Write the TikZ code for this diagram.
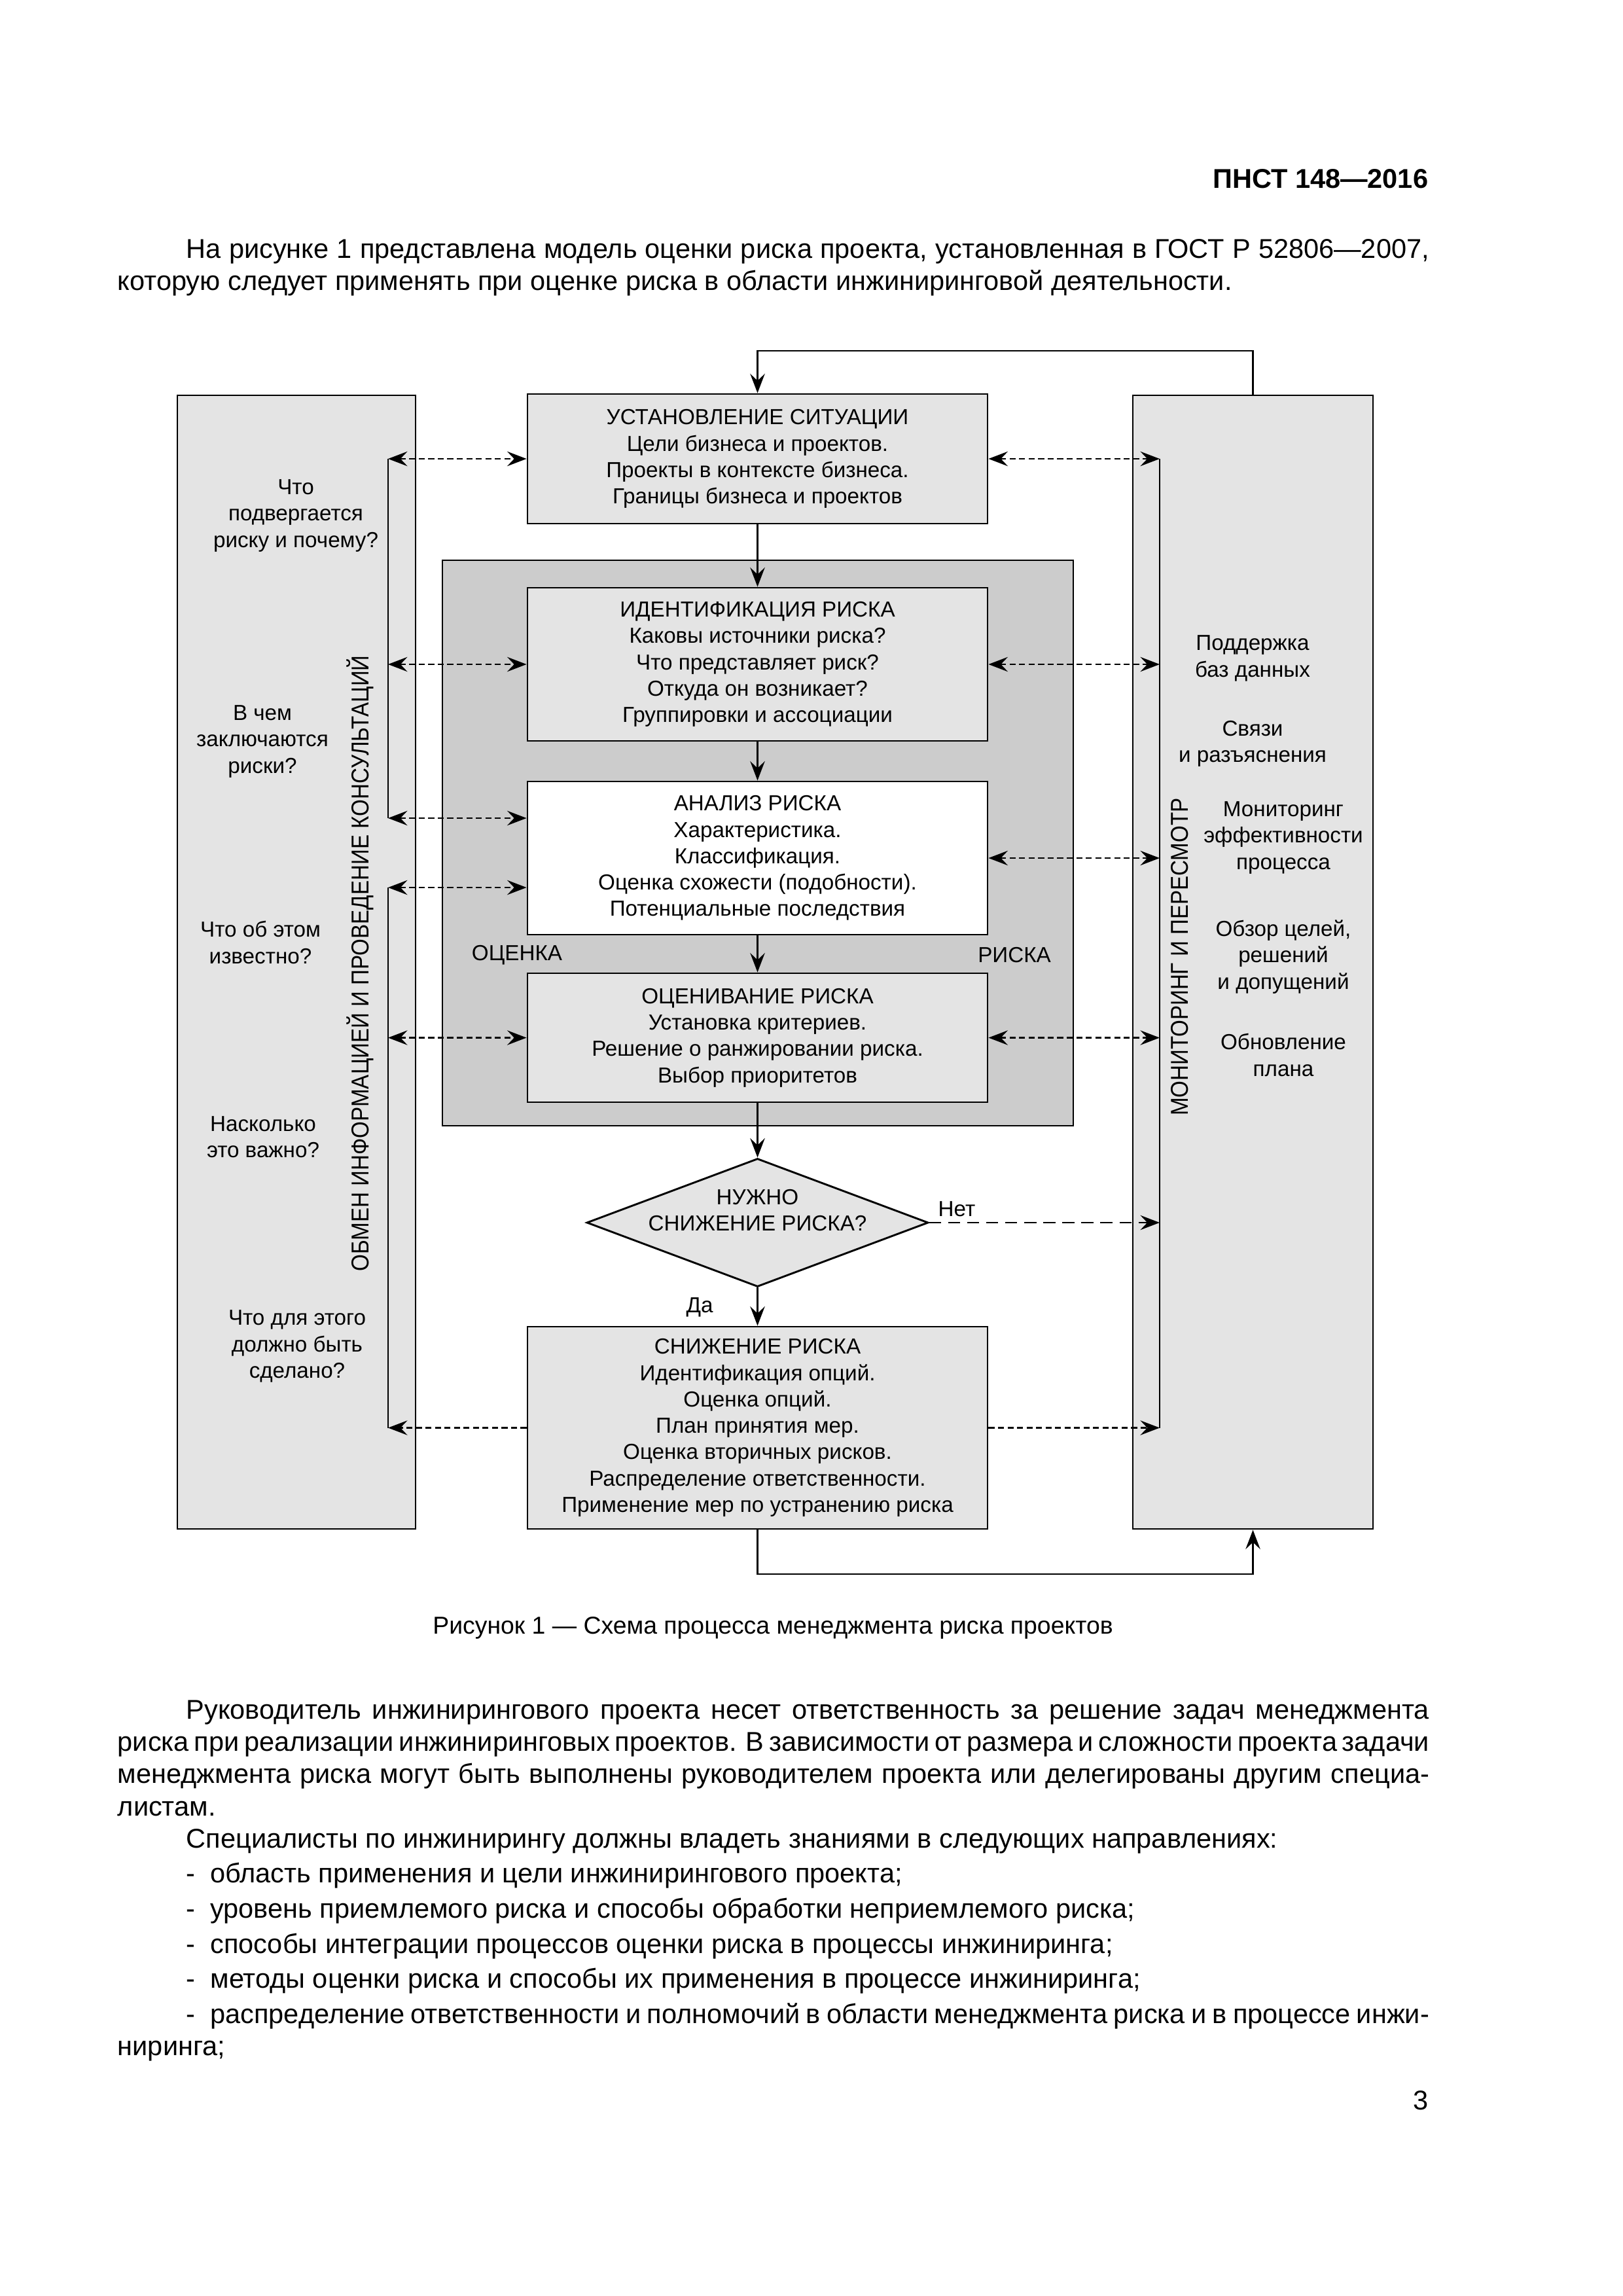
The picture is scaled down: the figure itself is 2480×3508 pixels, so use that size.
\documentclass[tikz,border=0pt]{standalone}
\usepackage{fontspec}
\usepackage{graphicx}
\setmainfont{Liberation Sans}
\usetikzlibrary{arrows.meta,shapes.geometric,calc}
\def\pxu{0.084677mm}
\newcommand\diafont{\fontsize{8}{9.7}\selectfont}
\newcommand\bodyfont{\fontsize{10}{11.8}\selectfont}
\definecolor{boxgray}{gray}{0.895}
\definecolor{outergray}{gray}{0.8}
\begin{document}
\begin{tikzpicture}[x=0.084677mm,y=-0.084677mm,
  >={Stealth[length=2.5mm,width=1.9mm,inset=0.9mm]},
  box/.style={draw=black, line width=0.7pt, fill=boxgray, inner sep=0pt, font=\diafont, align=center},
  txt/.style={inner sep=0pt, font=\diafont, align=center},
  conn/.style={draw=black, line width=0.6pt},
  darr/.style={draw=black, line width=0.6pt, dash pattern=on 2.2pt off 1.3pt},
  ndash/.style={draw=black, line width=0.6pt, dash pattern=on 4.4pt off 2.6pt},
  body/.style={inner sep=0pt, font=\bodyfont, anchor=base west}]
\useasboundingbox (0,0) rectangle (2480,3508);

% header and text above
\node[inner sep=0pt, font=\bfseries\fontsize{10}{12}\selectfont, anchor=base east] (hdr) at (2183,287) {ПНСТ 148—2016};
\node[body] (p1a) at (284,394) {\makebox[160.8mm][s]{На рисунке 1 представлена модель оценки риска проекта, установленная в ГОСТ Р 52806—2007,}};
\node[body] (p1b) at (179,443) {которую следует применять при оценке риска в области инжиниринговой деятельности.};

% side panels
\node[box, minimum width=364*\pxu, minimum height=1732*\pxu] (lb) at (453,1470) {};
\node[box, minimum width=367*\pxu, minimum height=1732*\pxu] (rb) at (1914.5,1470) {};
% assessment block
\node[draw=black, line width=0.7pt, fill=outergray, inner sep=0pt, minimum width=964*\pxu, minimum height=864*\pxu] (asm) at (1158,1288) {};

% process boxes
\node[box, minimum width=703*\pxu, minimum height=198*\pxu] (sit) at (1157.5,701)
  {УСТАНОВЛЕНИЕ СИТУАЦИИ\\Цели бизнеса и проектов.\\Проекты в контексте бизнеса.\\Границы бизнеса и проектов};
\node[box, minimum width=703*\pxu, minimum height=234*\pxu] (idn) at (1157.5,1015)
  {ИДЕНТИФИКАЦИЯ РИСКА\\Каковы источники риска?\\Что представляет риск?\\Откуда он возникает?\\Группировки и ассоциации};
\node[box, fill=white, minimum width=703*\pxu, minimum height=234*\pxu] (an) at (1157.5,1311)
  {АНАЛИЗ РИСКА\\Характеристика.\\Классификация.\\Оценка схожести (подобности).\\Потенциальные последствия};
\node[box, minimum width=703*\pxu, minimum height=197*\pxu] (ev) at (1157.5,1585.5)
  {ОЦЕНИВАНИЕ РИСКА\\Установка критериев.\\Решение о ранжировании риска.\\Выбор приоритетов};
\node[box, diamond, aspect=2.66, minimum width=522*\pxu, minimum height=196*\pxu] (dia) at (1157.5,1868) {};
\node[txt] (diat) at (1157.5,1849) {НУЖНО\\СНИЖЕНИЕ РИСКА?};
\node[box, minimum width=703*\pxu, minimum height=309*\pxu] (mit) at (1157.5,2181.5)
  {СНИЖЕНИЕ РИСКА\\Идентификация опций.\\Оценка опций.\\План принятия мер.\\Оценка вторичных рисков.\\Распределение ответственности.\\Применение мер по устранению риска};

\node[txt] (ocn) at (790,1459) {ОЦЕНКА};
\node[txt] (rsk) at (1550,1459) {РИСКА};

% left panel texts
\node[txt] (q1) at (452,788) {Что\\подвергается\\риску и почему?};
\node[txt] (q2) at (401,1133) {В чем\\заключаются\\риски?};
\node[txt] (q3) at (398,1440) {Что об этом\\известно?};
\node[txt] (q4) at (402,1737) {Насколько\\это важно?};
\node[txt] (q5) at (454,2057) {Что для этого\\должно быть\\сделано?};
\node[inner sep=0pt, rotate=90] (lv) at (550,1472)
  {\resizebox{79.7mm}{\height}{\fontsize{9}{9}\selectfont ОБМЕН ИНФОРМАЦИЕЙ И ПРОВЕДЕНИЕ КОНСУЛЬТАЦИЙ}};

% right panel texts
\node[txt] (m1) at (1914,1006) {Поддержка\\баз данных};
\node[txt] (m2) at (1914,1136) {Связи\\и разъяснения};
\node[txt] (m3) at (1961,1280) {Мониторинг\\эффективности\\процесса};
\node[txt] (m4) at (1961,1462) {Обзор целей,\\решений\\и допущений};
\node[txt] (m5) at (1961,1612) {Обновление\\плана};
\node[inner sep=0pt, rotate=90] (rv) at (1803,1462)
  {\resizebox{41.1mm}{\height}{\fontsize{9}{9}\selectfont МОНИТОРИНГ И ПЕРЕСМОТР}};

% collector lines
\coordinate (L1) at (593,701);
\coordinate (L2) at (593,1250);
\coordinate (L3) at (593,1356);
\coordinate (L4) at (593,2182);
\coordinate (R1) at (1772,701);
\coordinate (R2) at (1772,2182);
\coordinate (tl) at (1157.5,536);
\coordinate (bl) at (1914.5,2405);
\draw[conn] (L1) -- (L2);
\draw[conn] (L3) -- (L4);
\draw[conn] (R1) -- (R2);

% main flow
\draw[conn,->] (rb.north) |- (tl) -- (sit.north);
\draw[conn,->] (sit.south) -- (idn.north);
\draw[conn,->] (idn.south) -- (an.north);
\draw[conn,->] (an.south) -- (ev.north);
\draw[conn,->] (ev.south) -- (dia.north);
\draw[conn,->] (dia.south) -- (mit.north);
\draw[conn,->] (mit.south) |- (bl) -- (rb.south);
\node[txt] (da) at (1069,1997) {Да};
\node[txt] (net) at (1462,1847) {Нет};

% dashed exchanges, left
\draw[darr,<->] (L1) -- (sit.west);
\draw[darr,<->] (idn.west -| L1) -- (idn.west);
\draw[darr,<->] (L2) -- (L2 -| an.west);
\draw[darr,<->] (L3) -- (L3 -| an.west);
\draw[darr,<->] (ev.west -| L1) -- (ev.west);
\draw[darr,->] (mit.west) -- (mit.west -| L1);
% dashed exchanges, right
\draw[darr,<->] (sit.east) -- (sit.east -| R1);
\draw[darr,<->] (idn.east) -- (idn.east -| R1);
\draw[darr,<->] (an.east) -- (an.east -| R1);
\draw[darr,<->] (ev.east) -- (ev.east -| R1);
\draw[ndash,->] (dia.east) -- (dia.east -| R1);
\draw[darr,->] (mit.east) -- (mit.east -| R1);

% caption
\node[inner sep=0pt, font=\fontsize{9}{11}\selectfont, anchor=base] (cap) at (1181,2496) {Рисунок 1 — Схема процесса менеджмента риска проектов};

% text below
\node[body] (p2a) at (284,2626) {\makebox[160.8mm][s]{Руководитель инжинирингового проекта несет ответственность за решение задач менеджмента}};
\node[body] (p2b) at (179,2675) {\makebox[169.7mm][s]{риска при реализации инжиниринговых проектов. В зависимости от размера и сложности проекта задачи}};
\node[body] (p2c) at (179,2724) {\makebox[169.7mm][s]{менеджмента риска могут быть выполнены руководителем проекта или делегированы другим специа-}};
\node[body] (p2d) at (179,2774) {листам.};
\node[body] (p3) at (284,2823) {Специалисты по инжинирингу должны владеть знаниями в следующих направлениях:};
\node[body] (l1) at (284,2876) {\makebox[3.1mm][l]{-}область применения и цели инжинирингового проекта;};
\node[body] (l2) at (284,2930) {\makebox[3.1mm][l]{-}уровень приемлемого риска и способы обработки неприемлемого риска;};
\node[body] (l3) at (284,2984) {\makebox[3.1mm][l]{-}способы интеграции процессов оценки риска в процессы инжиниринга;};
\node[body] (l4) at (284,3037) {\makebox[3.1mm][l]{-}методы оценки риска и способы их применения в процессе инжиниринга;};
\node[body] (l5) at (284,3091) {\makebox[160.8mm][s]{\makebox[3.1mm][l]{-}распределение ответственности и полномочий в области менеджмента риска и в процессе инжи-}};
\node[body] (l6) at (179,3140) {ниринга;};
\node[inner sep=0pt, font=\bodyfont, anchor=base east] (pg) at (2183,3223) {3};
\end{tikzpicture}
\end{document}
